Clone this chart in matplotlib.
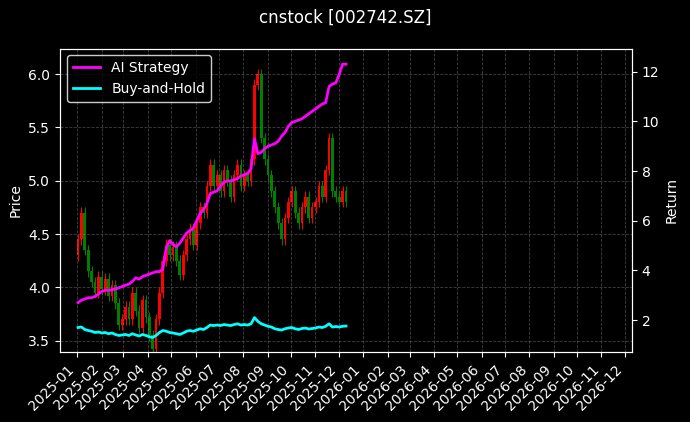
import matplotlib.pyplot as plt
import matplotlib.dates as mdates
import numpy as np
import pandas as pd

plt.style.use('dark_background')

dates = pd.date_range('2025-01-02', '2025-12-10', periods=80)

closes = [4.45, 4.70, 4.35, 4.15, 4.05, 3.95, 4.10,
          3.98, 4.08, 3.92, 4.02, 3.85, 3.65, 3.70,
          3.82, 3.70, 3.95, 3.78, 3.62, 3.88, 3.72,
          3.55, 3.42, 3.70, 3.95, 4.25, 4.40, 4.30,
          4.38, 4.25, 4.12, 4.30, 4.45, 4.55, 4.40,
          4.60, 4.75, 4.70, 4.95, 5.15, 4.95, 5.05,
          4.90, 5.10, 5.00, 4.85, 5.05, 5.15, 4.95,
          5.05, 5.00, 5.20, 5.90, 6.00, 5.40, 5.20,
          5.05, 4.90, 4.75, 4.60, 4.45, 4.65, 4.80,
          4.90, 4.70, 4.60, 4.75, 4.85, 4.65, 4.75,
          4.80, 4.95, 4.85, 5.10, 5.40, 4.90, 4.85,
          4.80, 4.90, 4.80]
first_open = 4.30

ai_return = [2.70, 2.80, 2.85, 2.90, 2.90, 2.95, 3.05,
             3.15, 3.20, 3.20, 3.22, 3.25, 3.30, 3.35,
             3.40, 3.45, 3.55, 3.70, 3.65, 3.75, 3.80,
             3.85, 3.90, 3.95, 3.95, 4.05, 4.90, 5.20,
             5.05, 4.95, 5.10, 5.30, 5.50, 5.60, 5.70,
             6.00, 6.30, 6.45, 6.70, 7.10, 7.15, 7.20,
             7.40, 7.55, 7.60, 7.60, 7.65, 7.70, 7.80,
             7.85, 7.90, 8.10, 9.30, 8.70, 8.75, 8.90,
             9.00, 9.05, 9.10, 9.20, 9.40, 9.55, 9.80,
             9.95, 10.00, 10.05, 10.10, 10.20, 10.30, 10.40,
             10.50, 10.60, 10.70, 10.75, 11.40, 11.50, 11.55,
             11.90, 12.30, 12.30]

bh_return = [1.70, 1.72, 1.62, 1.58, 1.55, 1.50, 1.52,
             1.48, 1.50, 1.45, 1.48, 1.42, 1.38, 1.40,
             1.42, 1.38, 1.45, 1.40, 1.36, 1.42, 1.38,
             1.33, 1.30, 1.38, 1.50, 1.58, 1.55, 1.50,
             1.48, 1.45, 1.42, 1.48, 1.55, 1.58, 1.55,
             1.60, 1.65, 1.62, 1.70, 1.80, 1.78, 1.80,
             1.78, 1.82, 1.80, 1.78, 1.82, 1.85, 1.80,
             1.82, 1.80, 1.85, 2.10, 1.95, 1.85, 1.80,
             1.75, 1.72, 1.65, 1.62, 1.60, 1.65, 1.68,
             1.70, 1.65, 1.62, 1.66, 1.68, 1.64, 1.66,
             1.68, 1.72, 1.70, 1.75, 1.85, 1.72, 1.74,
             1.72, 1.75, 1.76]

closes = np.array(closes)
opens = np.concatenate([[first_open], closes[:-1]])

fig, ax = plt.subplots(figsize=(6.9, 4.22), dpi=100)
fig.patch.set_facecolor('black')
ax.set_facecolor('black')

colors = ['red' if c >= o else 'green' for o, c in zip(opens, closes)]
lo = np.minimum(opens, closes)
hi = np.maximum(opens, closes)
ax.bar(dates, hi - lo, bottom=lo, width=3.5, color=colors, linewidth=0)
ax.vlines(dates, lo - 0.05, hi + 0.05, colors=colors, linewidth=0.8)

ax.set_ylabel('Price')
ax.set_ylim(3.39, 6.24)
ax.set_xlim(pd.Timestamp('2024-12-10'), pd.Timestamp('2026-12-10'))
ax.xaxis.set_major_locator(mdates.MonthLocator())
ax.xaxis.set_major_formatter(mdates.DateFormatter('%Y-%m'))
plt.setp(ax.get_xticklabels(), rotation=45, ha='right')
ax.grid(True, linestyle='--', color='grey', alpha=0.5, linewidth=0.6)

ax2 = ax.twinx()
ax2.plot(dates, ai_return, color='magenta', linewidth=2, label='AI Strategy')
ax2.plot(dates, bh_return, color='cyan', linewidth=2, label='Buy-and-Hold')
ax2.set_ylabel('Return')
ax2.set_ylim(0.70, 12.93)
ax2.legend(loc='upper left', facecolor='black', edgecolor='white')

fig.suptitle('cnstock [002742.SZ]')
fig.subplots_adjust(left=0.087, right=0.916, top=0.885, bottom=0.165)
fig.savefig('out.png')
